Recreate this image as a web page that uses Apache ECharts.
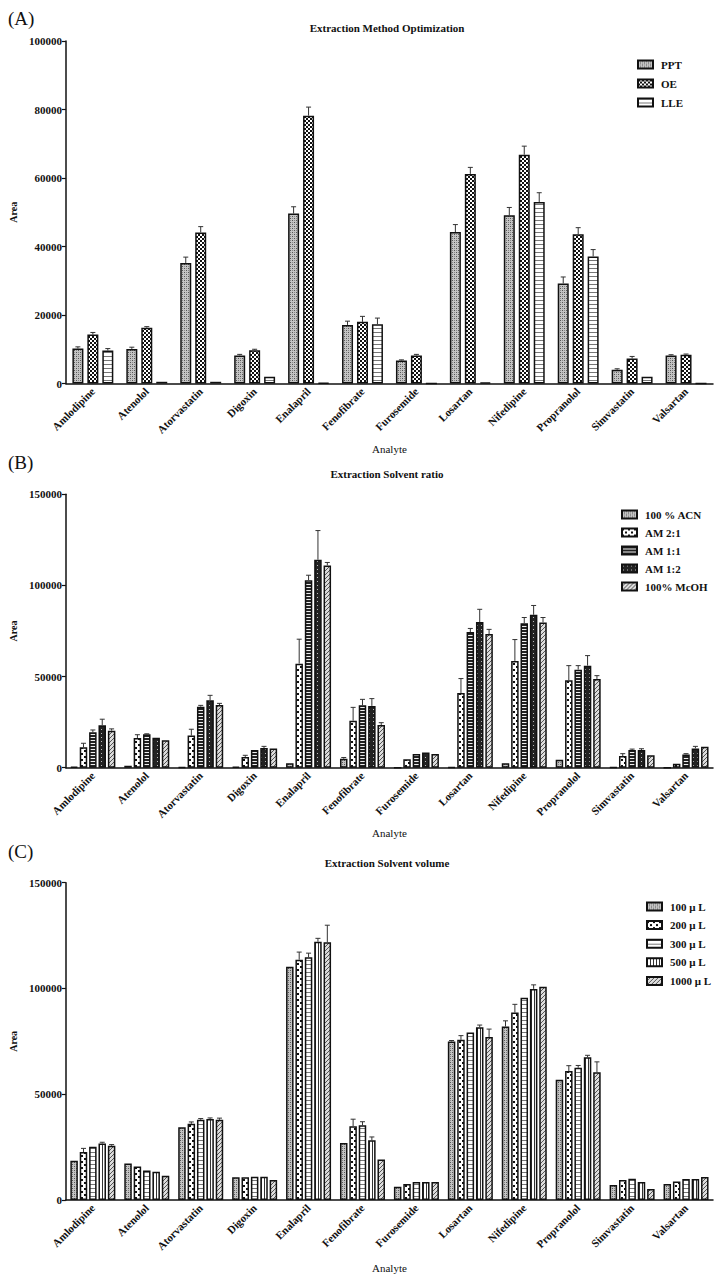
<!DOCTYPE html>
<html>
<head>
<meta charset="utf-8">
<script src="https://cdn.jsdelivr.net/npm/echarts@6/dist/echarts.min.js"></script>
<style>
html,body{margin:0;padding:0;background:#fff;}
#chart{width:728px;height:1280px;}
</style>
</head>
<body>
<div id="chart"></div>
<script>
// ---------- DATA ----------
const categories = ['Amlodipine','Atenolol','Atorvastatin','Digoxin','Enalapril','Fenofibrate','Furosemide','Losartan','Nifedipine','Propranolol','Simvastatin','Valsartan'];

// Panel A: Extraction Method Optimization
const namesA = ['PPT','OE','LLE'];
const ppt    = [10200, 10100, 35200, 8200, 49600, 17100, 6700, 44200, 49100, 29200, 4000, 8200];
const pptErr = [500, 500, 1700, 300, 2000, 1100, 200, 2200, 2300, 1900, 300, 200];
const oe     = [14300, 16300, 44100, 9700, 78200, 18000, 8200, 61200, 66800, 43600, 7300, 8400];
const oeErr  = [600, 300, 1700, 300, 2500, 1600, 300, 1900, 2500, 1900, 600, 200];
const lle    = [9600, 500, 500, 2000, 200, 17300, 0, 300, 53000, 37100, 2000, 0];
const lleErr = [600, 0, 0, 0, 0, 1800, 0, 0, 2700, 2000, 0, 0];

// Panel B: Extraction Solvent ratio
const namesB = ['100 % ACN','AM 2:1','AM 1:1','AM 1:2','100% McOH'];
const acn     = [500, 1100, 300, 500, 2400, 4900, 0, 300, 2400, 4400, 200, 0];
const acnErr  = [0, 0, 0, 0, 0, 700, 0, 0, 0, 0, 0, 0];
const am21    = [11200, 16300, 17600, 5900, 57100, 25800, 4600, 41000, 58600, 48000, 6400, 2200];
const am21Err = [2200, 1800, 3500, 900, 13400, 7300, 0, 7900, 11700, 8000, 1300, 0];
const am11    = [19400, 18300, 33500, 9700, 102900, 34200, 7500, 74400, 79300, 53800, 9700, 7300];
const am11Err = [1300, 300, 700, 0, 2700, 3300, 0, 2000, 3100, 2200, 500, 400];
const am12    = [23300, 16500, 37000, 10800, 114100, 33900, 8400, 79900, 83900, 56000, 9700, 10600];
const am12Err = [3300, 0, 2700, 900, 16000, 4000, 0, 7000, 5100, 5500, 700, 1100];
const meoh    = [20300, 15000, 34400, 10600, 111000, 23400, 7500, 73300, 79700, 48700, 6800, 11500];
const meohErr = [1000, 0, 900, 0, 1600, 1300, 0, 2600, 2700, 1800, 0, 0];

// Panel C: Extraction Solvent volume
const namesC = ['100 μ L','200 μ L','300 μ L','500 μ L','1000 μ L'];
const v100     = [18500, 17200, 34400, 10700, 110300, 27000, 6300, 74900, 82000, 56800, 7100, 7600];
const v100Err  = [0, 0, 0, 0, 0, 0, 0, 500, 2700, 0, 0, 0];
const v200     = [22700, 15800, 36000, 10700, 113600, 34900, 7600, 75700, 88600, 61000, 9500, 8800];
const v200Err  = [1700, 0, 900, 0, 3600, 3300, 0, 2000, 3900, 2500, 0, 0];
const v300     = [25200, 14000, 37900, 11000, 114800, 35300, 8500, 79200, 95600, 62500, 10100, 9900];
const v300Err  = [0, 0, 600, 0, 1900, 1700, 0, 0, 0, 1100, 0, 0];
const v500     = [26700, 13400, 38300, 11000, 122100, 28200, 8500, 81700, 99800, 67500, 8500, 9900];
const v500Err  = [600, 0, 500, 0, 1600, 1600, 0, 1000, 1900, 900, 0, 0];
const v1000    = [25600, 11500, 37900, 9500, 121900, 19200, 8500, 77000, 100800, 60400, 5200, 10900];
const v1000Err = [600, 0, 800, 0, 8000, 0, 0, 3800, 0, 4900, 0, 0];

const titles = ['Extraction Method Optimization','Extraction Solvent ratio','Extraction Solvent volume'];
const panelLabels = ['(A)','(B)','(C)'];
const yMax = [100000, 150000, 150000];
const yInterval = [20000, 50000, 50000];

// ---------- PATTERNS ----------
function pat(size, draw){
  const c = document.createElement('canvas');
  c.width = size; c.height = size;
  const ctx = c.getContext('2d');
  draw(ctx, size);
  return {image: c, repeat: 'repeat'};
}
const P = {
  fine: () => pat(4, (g,s)=>{ g.fillStyle='#c4c4c4'; g.fillRect(0,0,s,s); g.fillStyle='#555'; g.fillRect(0,0,1,1); g.fillRect(2,2,1,1); g.fillStyle='#888'; g.fillRect(2,0,1,1); g.fillRect(0,2,1,1);}),
  checker: () => pat(4, (g,s)=>{ g.fillStyle='#fff'; g.fillRect(0,0,s,s); g.fillStyle='#111'; g.fillRect(0,0,2,2); g.fillRect(2,2,2,2);}),
  dots: () => pat(6, (g,s)=>{ g.fillStyle='#fff'; g.fillRect(0,0,s,s); g.fillStyle='#111'; g.fillRect(0,0,2,2); g.fillRect(3,3,2,2);}),
  hlight: () => pat(4, (g,s)=>{ g.fillStyle='#fff'; g.fillRect(0,0,s,s); g.fillStyle='#777'; g.fillRect(0,0,s,1);}),
  hdark: () => pat(3, (g,s)=>{ g.fillStyle='#eee'; g.fillRect(0,0,s,s); g.fillStyle='#222'; g.fillRect(0,0,s,2);}),
  darkdot: () => pat(4, (g,s)=>{ g.fillStyle='#222'; g.fillRect(0,0,s,s); g.fillStyle='#bbb'; g.fillRect(1,1,1,1);}),
  vstripe: () => pat(3, (g,s)=>{ g.fillStyle='#fff'; g.fillRect(0,0,s,s); g.fillStyle='#333'; g.fillRect(0,0,1,s);}),
  hatch: () => pat(4, (g,s)=>{ g.fillStyle='#ddd'; g.fillRect(0,0,s,s); g.fillStyle='#555'; for(let i=0;i<s;i++){ g.fillRect(i,s-1-i,1,1);} })
};

const panels = [
  {names: namesA, vals: [ppt, oe, lle], errs: [pptErr, oeErr, lleErr], pats: [P.fine(), P.checker(), P.hlight()], w: 11, gap: 0.36},
  {names: namesB, vals: [acn, am21, am11, am12, meoh], errs: [acnErr, am21Err, am11Err, am12Err, meohErr], pats: [P.fine(), P.dots(), P.hdark(), P.darkdot(), P.hatch()], w: 7.5, gap: 0.25},
  {names: namesC, vals: [v100, v200, v300, v500, v1000], errs: [v100Err, v200Err, v300Err, v500Err, v1000Err], pats: [P.fine(), P.dots(), P.hlight(), P.vstripe(), P.hatch()], w: 7.5, gap: 0.25}
];

// ---------- LAYOUT ----------
const gridsPos = [
  {left: 61, width: 652, top: 41, height: 342.5},
  {left: 61, width: 652, top: 494.3, height: 273.4},
  {left: 61, width: 652, top: 882.7, height: 317.3}
];
const legendPos = [
  {left: 637, top: 59, itemGap: 8},
  {left: 621, top: 509, itemGap: 7},
  {left: 646, top: 901, itemGap: 7.6}
];
const titleY = [28, 474, 863];
const labelY = [18, 462, 851];
const analyteGap = [60, 60, 62];

const FONT = '"Liberation Serif", "Times New Roman", serif';

const grid = [], xAxis = [], yAxis = [], series = [], legend = [], graphic = [];

panels.forEach((p, gi) => {
  grid.push(Object.assign({containLabel: false}, gridsPos[gi]));
  xAxis.push({
    type: 'category', gridIndex: gi, data: categories,
    name: 'Analyte', nameLocation: 'middle', nameGap: analyteGap[gi],
    nameTextStyle: {fontFamily: FONT, fontSize: 11, color: '#111'},
    axisLine: {lineStyle: {color: '#111', width: 1.5}},
    axisTick: {alignWithLabel: true, length: 4, lineStyle: {color: '#111', width: 1.2}},
    axisLabel: {interval: 0, rotate: 45, fontFamily: FONT, fontWeight: 'bold', fontSize: 11, color: '#111', margin: 6}
  });
  yAxis.push({
    type: 'value', gridIndex: gi, min: 0, max: yMax[gi], interval: yInterval[gi],
    name: 'Area', nameLocation: 'middle', nameGap: 46, nameRotate: 90,
    nameTextStyle: {fontFamily: FONT, fontSize: 10, fontWeight: 'bold', color: '#111'},
    splitLine: {show: false},
    axisLine: {show: true, lineStyle: {color: '#111', width: 1.5}},
    axisTick: {show: true, length: 4, lineStyle: {color: '#111', width: 1.2}},
    axisLabel: {formatter: v => String(v), fontFamily: FONT, fontWeight: 'bold', fontSize: 11, color: '#111', margin: 4}
  });
  const n = p.names.length;
  const gapPx = p.w * p.gap;
  const total = n * p.w + (n - 1) * gapPx;
  p.names.forEach((nm, si) => {
    series.push({
      type: 'bar', name: nm, xAxisIndex: gi, yAxisIndex: gi,
      data: p.vals[si], barWidth: p.w, barGap: (p.gap * 100) + '%',
      itemStyle: {color: p.pats[si], borderColor: '#111', borderWidth: 1.5},
      emphasis: {disabled: true}, animation: false, z: 2
    });
  });
  p.names.forEach((nm, si) => {
    const off = -total / 2 + si * (p.w + gapPx) + p.w / 2;
    series.push({
      type: 'custom', name: 'err-' + gi + '-' + si, xAxisIndex: gi, yAxisIndex: gi,
      data: p.vals[si].map((v, i) => [i, v, p.errs[si][i]]),
      z: 5, animation: false, silent: true,
      renderItem: (params, api) => {
        const e = api.value(2);
        if (!e) return null;
        const b = api.coord([api.value(0), api.value(1)]);
        const t = api.coord([api.value(0), api.value(1) + e]);
        const x = b[0] + off;
        const st = {stroke: '#333', lineWidth: 1};
        return {type: 'group', children: [
          {type: 'line', shape: {x1: x, y1: b[1], x2: x, y2: t[1]}, style: st},
          {type: 'line', shape: {x1: x - 2.5, y1: t[1], x2: x + 2.5, y2: t[1]}, style: st}
        ]};
      }
    });
  });
  legend.push({
    data: p.names, orient: 'vertical', left: legendPos[gi].left, top: legendPos[gi].top,
    itemGap: legendPos[gi].itemGap, itemWidth: 15, itemHeight: 8, padding: 0,
    icon: 'rect', selectedMode: false,
    textStyle: {fontFamily: FONT, fontWeight: 'bold', fontSize: 11, color: '#111', padding: [0, 0, 0, 3]}
  });
  graphic.push({
    type: 'text', x: 387, y: titleY[gi],
    style: {text: titles[gi], font: 'bold 11px ' + FONT, fill: '#111', textAlign: 'center', textVerticalAlign: 'middle'}
  });
  graphic.push({
    type: 'text', x: 8, y: labelY[gi],
    style: {text: panelLabels[gi], font: '19px ' + FONT, fill: '#111', textAlign: 'left', textVerticalAlign: 'middle'}
  });
});

const chart = echarts.init(document.getElementById('chart'), null, {renderer: 'svg', width: 728, height: 1280});
chart.setOption({
  backgroundColor: '#fff',
  animation: false,
  grid, xAxis, yAxis, series, legend, graphic
});
</script>
</body>
</html>
